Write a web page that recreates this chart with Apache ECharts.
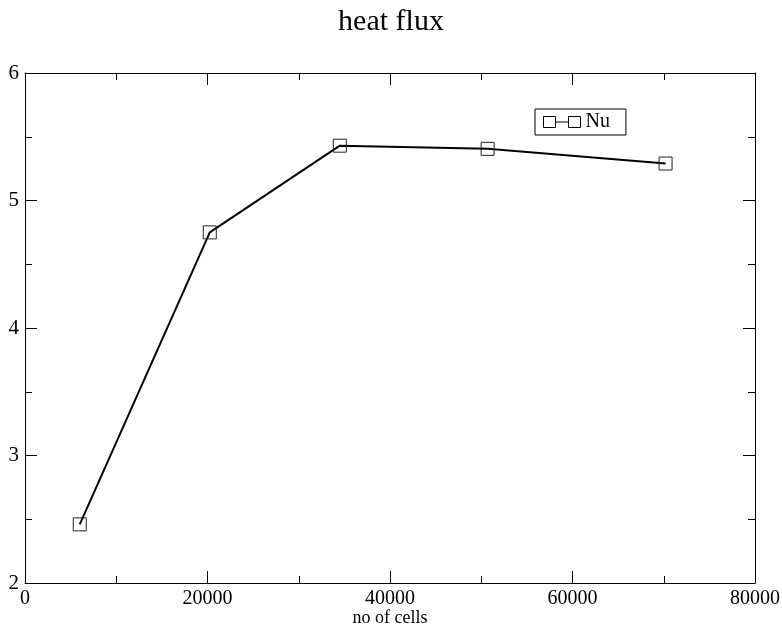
<!DOCTYPE html>
<html>
<head>
<meta charset="utf-8">
<style>
  html, body { margin: 0; padding: 0; background: #fff; }
  #chart { width: 782px; height: 629px; }
</style>
<script src="https://cdn.jsdelivr.net/npm/echarts@6/dist/echarts.min.js"></script>
</head>
<body>
<div id="chart"></div>
<script>
// Grid-convergence study: Nusselt number vs mesh size
const cellCounts = [6000, 20250, 34500, 50700, 70200];
const nuValues = [2.46, 4.75, 5.43, 5.405, 5.29];
const seriesName = 'Nu';
const chartTitle = 'heat flux';
const xAxisName = 'no of cells';

const FONT = "'Liberation Serif', 'Times New Roman', serif";
const INK = '#000';

const points = cellCounts.map((c, i) => [c, nuValues[i]]);

// Shared frame style: inward ticks with one minor tick between majors
function frameAxis(extra) {
  return Object.assign({
    type: 'value',
    axisLine: { show: true, onZero: false, lineStyle: { color: INK, width: 1 } },
    axisTick: { show: true, inside: true, length: 12, lineStyle: { color: INK, width: 1 } },
    minorTick: { show: true, splitNumber: 2, length: 7, lineStyle: { color: INK, width: 1 } },
    splitLine: { show: false },
    minorSplitLine: { show: false }
  }, extra);
}

const plainNumber = v => String(v);

const chart = echarts.init(document.getElementById('chart'), null, { renderer: 'canvas' });

chart.setOption({
  animation: false,
  backgroundColor: '#fff',
  title: {
    text: chartTitle,
    left: 'center',
    top: 2,
    textStyle: { fontFamily: FONT, fontSize: 30, fontWeight: 'normal', color: INK }
  },
  legend: {
    left: 535,
    top: 109,
    padding: [3, 16, 3, 8],
    borderColor: INK,
    borderWidth: 1,
    itemWidth: 37,
    itemHeight: 11,
    icon: 'path://M0,0H12V11H0ZM25,0H37V11H25ZM12,5.5H25',
    itemStyle: { color: 'transparent', borderColor: INK, borderWidth: 1 },
    textStyle: { fontFamily: FONT, fontSize: 20, color: INK },
    data: [seriesName]
  },
  grid: { left: 25, right: 27, top: 73, bottom: 46, containLabel: false, outerBoundsMode: 'none' },
  xAxis: [
    frameAxis({
      position: 'bottom',
      min: 0, max: 80000, interval: 20000,
      name: xAxisName,
      nameLocation: 'middle',
      nameGap: 26,
      nameMoveOverlap: false,
      nameTextStyle: { fontFamily: FONT, fontSize: 18, color: INK },
      axisLabel: { show: true, margin: 6, fontFamily: FONT, fontSize: 20, color: INK, formatter: plainNumber }
    }),
    frameAxis({
      position: 'top',
      min: 0, max: 80000, interval: 20000,
      axisLabel: { show: false }
    })
  ],
  yAxis: [
    frameAxis({
      position: 'left',
      min: 2, max: 6, interval: 1,
      axisLabel: { show: true, margin: 6, fontFamily: FONT, fontSize: 21, color: INK, formatter: plainNumber }
    }),
    frameAxis({
      position: 'right',
      min: 2, max: 6, interval: 1,
      axisLabel: { show: false }
    })
  ],
  series: [{
    name: seriesName,
    type: 'line',
    xAxisIndex: 0,
    yAxisIndex: 0,
    data: points,
    symbol: 'rect',
    symbolSize: 13,
    showAllSymbol: true,
    lineStyle: { color: INK, width: 2 },
    itemStyle: { color: 'transparent', borderColor: '#222', borderWidth: 1 },
    emphasis: { disabled: true }
  }]
});
</script>
</body>
</html>
